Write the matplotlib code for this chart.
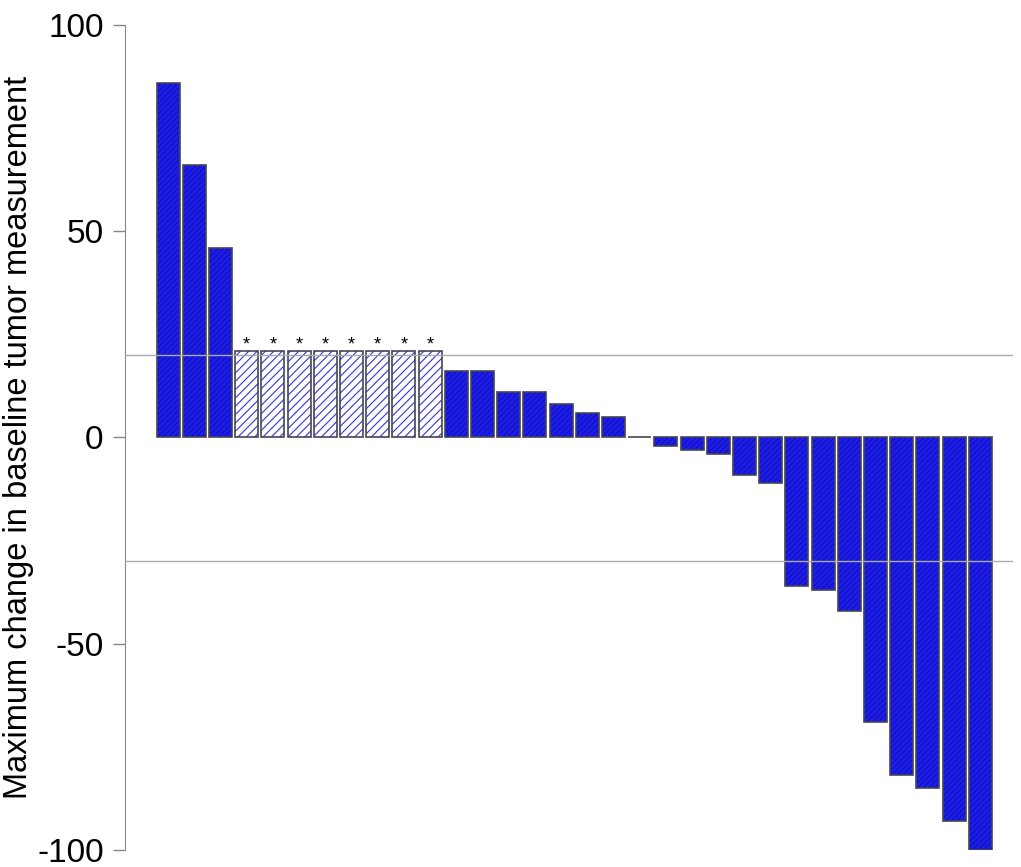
import matplotlib.pyplot as plt
import matplotlib as mpl
from matplotlib.colors import to_rgba

values = [86, 66, 46, 21, 21, 21, 21, 21, 21, 21, 21, 16, 16, 11, 11, 8, 6, 5, 0,
          -2, -3, -4, -9, -11, -36, -37, -42, -69, -82, -85, -93, -100]
starred = [False] * 3 + [True] * 8 + [False] * 21
ref_lines = [20, -30]

plt.rcParams['font.family'] = ['Liberation Sans', 'DejaVu Sans']
plt.rcParams['axes.unicode_minus'] = False
mpl.rcParams['hatch.linewidth'] = 0.8
fig = plt.figure(figsize=(10.21, 8.67), dpi=100)
ax = fig.add_axes([0.122, 0.02, 0.87, 0.951])

for i, (v, s) in enumerate(zip(values, starred)):
    if s:
        face, hatch, hcol = 'white', '////', '#3535d8'
    else:
        face, hatch, hcol = '#1c1cf0', '//////', '#1414a8'
    bars = ax.bar(i, v, width=0.88, facecolor=face, edgecolor=hcol,
                  hatch=hatch, linewidth=0, zorder=2)
    for b in bars:
        b._hatch_color = to_rgba(hcol)
    ax.bar(i, v, width=0.88, fill=False, edgecolor='#444455', linewidth=1.2, zorder=2.5)
    if s:
        ax.text(i, v - 0.6, '*', ha='center', va='bottom', fontsize=13, zorder=3)

for y in ref_lines:
    ax.axhline(y, color='#aaaaaa', linewidth=1.0, zorder=3)

ax.set_xlim(-1.66, 32.24)
ax.set_ylim(-100, 100)
ax.set_yticks([-100, -50, 0, 50, 100])
ax.tick_params(axis='y', labelsize=24, length=9, width=1, color='#888888', pad=6)
ax.set_xticks([])
for side in ['top', 'right', 'bottom']:
    ax.spines[side].set_visible(False)
ax.spines['left'].set_color('#888888')
ax.set_ylabel('Maximum change in baseline tumor measurement', fontsize=23.5, labelpad=2)

fig.savefig('out.png')
